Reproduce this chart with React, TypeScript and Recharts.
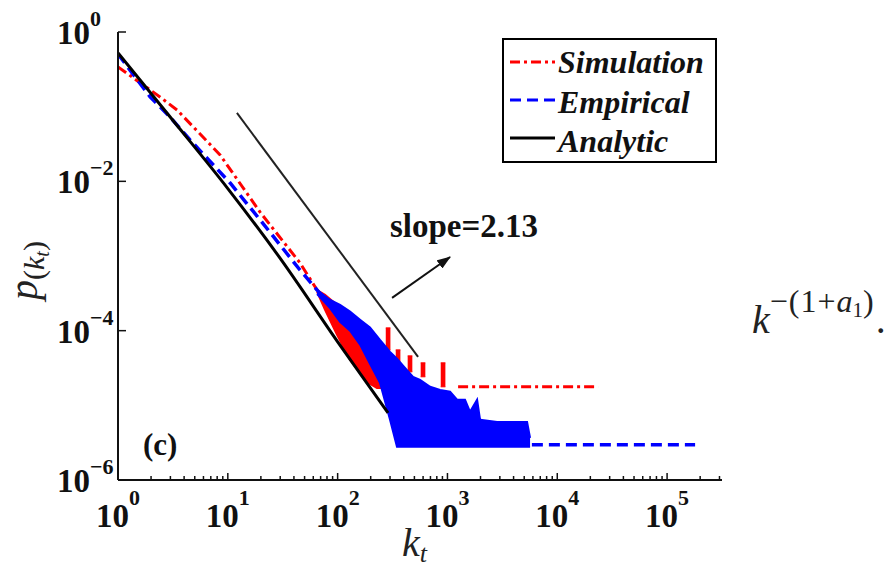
import React from "react";
import { Area, ComposedChart, Legend, Line, XAxis, YAxis } from "recharts";

const SERIF = "'Liberation Serif', 'Times New Roman', serif";
const INK = "#111";

// axis ticks
const xDecades = [1, 10, 100, 1000, 10000, 100000];
const xExpLabels = ["0", "1", "2", "3", "4", "5"];
const xMinorSteps = [2, 3, 4, 5, 6, 7, 8, 9];
const xMax = 316228;
const xTicks = xDecades
  .flatMap((d) => [d, ...xMinorSteps.map((m) => m * d)])
  .filter((v) => v <= xMax);

const yTicks = [1e-6, 1e-4, 1e-2, 1];
const yExpLabels = ["\u22126", "\u22124", "\u22122", "0"];

// Simulation (red, dash-dot): smooth head, noisy cloud, isolated spikes, flat tail
const simK = [1, 2.41, 3.45, 8.5, 19.6, 45.4, 65];
const simP = [0.34, 0.135, 0.0903, 0.0226, 0.00389, 8.1e-4, 3.5e-4];
const simTailK = [1250, 23550];
const simTailP = [1.77e-5, 1.77e-5];
const simBandK = [65, 76.8, 98.8, 129.7, 185, 228, 259];
const simBandLow = [3.31e-4, 1.9e-4, 8.8e-5, 4.07e-5, 2.06e-5, 1.71e-5, 1.71e-5];
const simBandHigh = [3.5e-4, 3.01e-4, 2.21e-4, 1.5e-4, 9.5e-5, 7.2e-5, 6.46e-5];
const simSpikeK = [288, 355, 456, 599, 912];
const simSpikeLow = [5.53e-5, 3.28e-5, 2.81e-5, 2.41e-5, 1.77e-5];
const simSpikeHigh = [1.09e-4, 5.53e-5, 4.6e-5, 3.71e-5, 3.71e-5];

// Empirical (blue, dashed)
const empK = [1, 1.96, 2.98, 4.53, 10.5, 19.7, 45.4, 105, 300, 1056, 5653, 179900];
const empP = [0.508, 0.135, 0.0728, 0.0358, 0.0095, 0.00304, 6.5e-4, 1.53e-4, 3.0e-5, 1.0e-5, 2.96e-6, 2.96e-6];
const empBandK = [65, 85.3, 105.2, 129.7, 160, 197, 243, 300, 347, 411, 486, 563, 695, 857, 1056, 1223, 1445, 1606, 1862, 1982, 2831, 5309, 5653];
const empBandHigh = [3.5e-4, 2.58e-4, 2.21e-4, 1.8e-4, 1.4e-4, 1.1e-4, 7.5e-5, 5.2e-5, 4.2e-5, 3.18e-5, 2.41e-5, 2.19e-5, 1.77e-5, 1.61e-5, 1.52e-5, 1.19e-5, 1.19e-5, 8.2e-6, 1.19e-5, 6.4e-6, 6.0e-6, 6.0e-6, 3.67e-6];
const empBandLow = [3.1e-4, 2.0e-4, 1.31e-4, 1.0e-4, 6.5e-5, 3.6e-5, 2.0e-5, 6.4e-6, 2.78e-6, 2.78e-6, 2.78e-6, 2.78e-6, 2.78e-6, 2.78e-6, 2.78e-6, 2.78e-6, 2.78e-6, 2.78e-6, 2.78e-6, 2.78e-6, 2.78e-6, 2.78e-6, 2.78e-6];

// Analytic (black)
const anaK = [1, 3, 10, 30, 100, 288];
const anaP = [0.524, 0.072, 0.008, 9.3e-4, 7.1e-5, 7.9e-6];

// slope guide + arrow
const slopeK = [12.1, 540];
const slopeP = [0.0824, 4.46e-5];
const arrowK = [313, 1056];
const arrowP = [2.75e-4, 9.7e-4];

const legendNames = ["Simulation", "Empirical", "Analytic"];
const legendColors = ["#ff0000", "#0000ff", "#000000"];
const legendDash = ["10 4 3 4", "11 6", ""];

const RED_DASH = "10 4 3 4";
const BLUE_DASH = "11 6";
const SPIKE_HALF = 1.05; // half-width of a noise spike, as a factor on k

const toPoints = (ks: number[], ps: number[]) => ks.map((k, i) => ({ k, p: ps[i] }));
const toBand = (ks: number[], lo: number[], hi: number[]) =>
  ks.map((k, i) => ({ k, r: [lo[i], hi[i]] }));

const simLine = toPoints(simK, simP);
const simTail = toPoints(simTailK, simTailP);
const simBand = toBand(simBandK, simBandLow, simBandHigh);
const simSpikes = simSpikeK.map((k, i) => [
  { k: k / SPIKE_HALF, r: [simSpikeLow[i], simSpikeHigh[i]] },
  { k: k * SPIKE_HALF, r: [simSpikeLow[i], simSpikeHigh[i]] },
]);
const empLine = toPoints(empK, empP);
const empBand = toBand(empBandK, empBandLow, empBandHigh);
const anaLine = toPoints(anaK, anaP);
const slopeLine = toPoints(slopeK, slopeP);
const arrowLine = toPoints(arrowK, arrowP);

const isDecade = (v: number) => xDecades.indexOf(v) >= 0;

function BottomTick(props: any) {
  const { x, y, payload } = props;
  const v = payload.value;
  const i = xDecades.indexOf(v);
  return (
    <g>
      <line x1={x} y1={y} x2={x} y2={y - (isDecade(v) ? 7 : 4)} stroke={INK} strokeWidth={1.5} />
      {i >= 0 && (
        <g fontFamily={SERIF} fontWeight="bold" fill={INK}>
          <text x={x + 11} y={y + 47} fontSize={33} textAnchor="end">10</text>
          <text x={x + 11} y={y + 25} fontSize={22} textAnchor="start">{xExpLabels[i]}</text>
        </g>
      )}
    </g>
  );
}

function TopTick(props: any) {
  const { x, y, payload } = props;
  return <line x1={x} y1={y} x2={x} y2={y + (isDecade(payload.value) ? 7 : 4)} stroke={INK} strokeWidth={1.5} />;
}

function LeftTick(props: any) {
  const { x, y, payload } = props;
  const i = yTicks.indexOf(payload.value);
  return (
    <g>
      <line x1={x} y1={y} x2={x + 8} y2={y} stroke={INK} strokeWidth={1.5} />
      <g fontFamily={SERIF} fontWeight="bold" fill={INK}>
        <text x={x - 28} y={y + 12} fontSize={33} textAnchor="end">10</text>
        <text x={x - 28} y={y - 6} fontSize={22} textAnchor="start">{yExpLabels[i]}</text>
      </g>
    </g>
  );
}

function RightTick(props: any) {
  const { x, y } = props;
  return <line x1={x} y1={y} x2={x - 8} y2={y} stroke={INK} strokeWidth={1.5} />;
}

function renderLegend() {
  return (
    <svg width={216} height={126} style={{ display: "block" }}>
      <rect x={1} y={1} width={213} height={123} fill="#fff" stroke="#000" strokeWidth={2} />
      {legendNames.map((name, i) => (
        <g key={name}>
          <line
            x1={8}
            x2={53}
            y1={24 + 38 * i}
            y2={24 + 38 * i}
            stroke={legendColors[i]}
            strokeWidth={3}
            strokeDasharray={legendDash[i] || undefined}
          />
          <text x={56} y={35 + 39.5 * i} fontFamily={SERIF} fontStyle="italic" fontWeight="bold" fontSize={32} fill={INK}>
            {name}
          </text>
        </g>
      ))}
    </svg>
  );
}

export default function App() {
  return (
    <div style={{ position: "absolute", left: 0, top: 0, width: 892, height: 569, background: "#fff" }}>
      <ComposedChart width={892} height={569} margin={{ top: 32, right: 170, bottom: 29, left: 58 }}>
        <defs>
          <marker id="arrowHead" markerWidth={14} markerHeight={10} refX={13} refY={5} orient="auto" markerUnits="userSpaceOnUse">
            <path d="M0,0 L14,5 L0,10 z" fill={INK} />
          </marker>
        </defs>
        <XAxis
          dataKey="k"
          type="number"
          scale="log"
          domain={[1, xMax]}
          allowDataOverflow
          ticks={xTicks}
          interval={0}
          tickSize={0}
          tickMargin={0}
          tickLine={false}
          tick={BottomTick}
          axisLine={{ stroke: INK, strokeWidth: 2 }}
          height={60}
        />
        <XAxis
          xAxisId="top"
          orientation="top"
          dataKey="k"
          type="number"
          scale="log"
          domain={[1, xMax]}
          allowDataOverflow
          ticks={xTicks}
          interval={0}
          tickSize={0}
          tickMargin={0}
          tickLine={false}
          tick={TopTick}
          axisLine={{ stroke: INK, strokeWidth: 2 }}
          height={0}
        />
        <YAxis
          type="number"
          scale="log"
          domain={[1e-6, 1]}
          allowDataOverflow
          ticks={yTicks}
          interval={0}
          tickSize={0}
          tickMargin={0}
          tickLine={false}
          tick={LeftTick}
          axisLine={{ stroke: INK, strokeWidth: 2 }}
          width={60}
        />
        <YAxis
          yAxisId="right"
          orientation="right"
          type="number"
          scale="log"
          domain={[1e-6, 1]}
          allowDataOverflow
          ticks={yTicks}
          interval={0}
          tickSize={0}
          tickMargin={0}
          tickLine={false}
          tick={RightTick}
          axisLine={{ stroke: INK, strokeWidth: 2 }}
          width={0}
        />

        <Area data={simBand} dataKey="r" type="linear" stroke="#ff0000" strokeWidth={2} fill="#ff0000" fillOpacity={1} dot={false} activeDot={false} legendType="none" isAnimationActive={false} />
        {simSpikes.map((d, i) => (
          <Area key={`spike-${i}`} data={d} dataKey="r" type="linear" stroke="#ff0000" strokeWidth={1} fill="#ff0000" fillOpacity={1} dot={false} activeDot={false} legendType="none" isAnimationActive={false} />
        ))}
        <Area data={empBand} dataKey="r" type="linear" stroke="#0000ff" strokeWidth={2} fill="#0000ff" fillOpacity={1} dot={false} activeDot={false} legendType="none" isAnimationActive={false} />

        <Line data={simLine} dataKey="p" name="Simulation" type="linear" stroke="#ff0000" strokeWidth={3} strokeDasharray={RED_DASH} dot={false} activeDot={false} isAnimationActive={false} />
        <Line data={simTail} dataKey="p" type="linear" stroke="#ff0000" strokeWidth={3} strokeDasharray={RED_DASH} dot={false} activeDot={false} legendType="none" isAnimationActive={false} />
        <Line data={empLine} dataKey="p" name="Empirical" type="linear" stroke="#0000ff" strokeWidth={3.5} strokeDasharray={BLUE_DASH} dot={false} activeDot={false} isAnimationActive={false} />
        <Line data={anaLine} dataKey="p" name="Analytic" type="monotone" stroke="#000" strokeWidth={3} dot={false} activeDot={false} isAnimationActive={false} />
        <Line data={slopeLine} dataKey="p" type="linear" stroke="#222" strokeWidth={2} dot={false} activeDot={false} legendType="none" isAnimationActive={false} />
        <Line data={arrowLine} dataKey="p" type="linear" stroke={INK} strokeWidth={2} markerEnd="url(#arrowHead)" dot={false} activeDot={false} legendType="none" isAnimationActive={false} />

        <Legend
          layout="horizontal"
          align="center"
          verticalAlign="middle"
          content={renderLegend}
          wrapperStyle={{ left: 502, top: 38, width: 216, height: 126 }}
        />

        <text x={390} y={237} fontFamily={SERIF} fontWeight="bold" fontSize={33} fill={INK}>slope=2.13</text>
        <text x={143} y={455} fontFamily={SERIF} fontWeight="bold" fontSize={31} fill={INK}>(c)</text>

        <text x={402} y={556} fontFamily={SERIF} fontStyle="italic" fontSize={40} fill="#222">
          k<tspan fontSize={26} dy={6}>t</tspan>
        </text>

        <text transform="rotate(-90 37 300)" x={37} y={300} fontFamily={SERIF} fill="#222">
          <tspan fontStyle="italic" fontSize={40}>p</tspan>
          <tspan fontSize={30} dy={7}>(</tspan>
          <tspan fontSize={30} fontStyle="italic">k</tspan>
          <tspan fontSize={20} fontStyle="italic" dy={5}>t</tspan>
          <tspan fontSize={30} dy={-5}>)</tspan>
        </text>

        <text x={752} y={333} fontFamily={SERIF} fill="#222">
          <tspan fontStyle="italic" fontSize={40}>k</tspan>
          <tspan fontSize={32} dy={-21} letterSpacing={1}>{"\u2212(1+"}</tspan>
          <tspan fontSize={32} fontStyle="italic">a</tspan>
          <tspan fontSize={21} dy={5}>1</tspan>
          <tspan fontSize={32} dy={-5}>)</tspan>
          <tspan fontSize={40} dy={21} dx={2}>.</tspan>
        </text>
      </ComposedChart>
    </div>
  );
}
